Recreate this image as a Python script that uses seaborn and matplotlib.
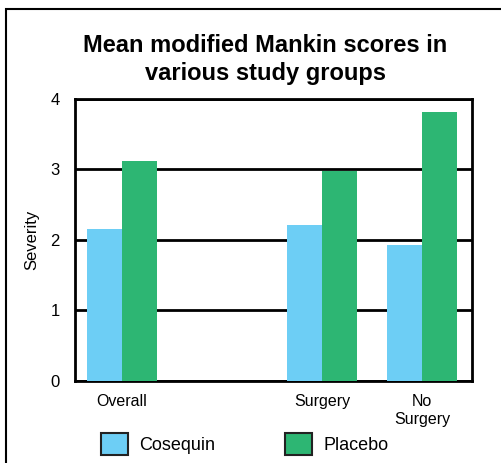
import matplotlib
matplotlib.use("Agg")
import matplotlib.pyplot as plt
import matplotlib.patches as mpatches
import seaborn as sns
import pandas as pd

# Study groups; the blank entry leaves an empty slot between Overall and Surgery
groups = ["Overall", " ", "Surgery", "No\nSurgery"]
data_groups = ["Overall", "Surgery", "No\nSurgery"]
cosequin = [2.15, 2.21, 1.93]
placebo = [3.11, 2.98, 3.81]
treatments = ["Cosequin", "Placebo"]
yticks = [0, 1, 2, 3, 4]

colors = {"Cosequin": "#6DCEF5", "Placebo": "#2DB673"}

df = pd.DataFrame({
    "Group": data_groups * 2,
    "Treatment": ["Cosequin"] * 3 + ["Placebo"] * 3,
    "Severity": cosequin + placebo,
})

sns.set_theme(style="white")
plt.rcParams["font.family"] = ["Liberation Sans", "DejaVu Sans"]
plt.rcParams.update({"text.color": "black", "axes.labelcolor": "black",
                     "xtick.color": "black", "ytick.color": "black"})

fig = plt.figure(figsize=(5.01, 4.63), dpi=100)
ax = fig.add_axes([0.1497, 0.1771, 0.7924, 0.6101])

sns.barplot(data=df, x="Group", y="Severity", hue="Treatment", order=groups,
            hue_order=treatments, palette=colors, width=0.7, saturation=1,
            linewidth=0, errorbar=None, legend=False, ax=ax, zorder=3)

ax.set_xlim(-0.47, 3.5)
ax.set_ylim(0, 4)
ax.set_yticks(yticks)
ax.set_yticklabels([str(t) for t in yticks], fontsize=12)
ax.set_xticks(range(len(groups)))
ax.set_xticklabels(groups, fontsize=11.5, linespacing=1.3)
ax.tick_params(axis="both", length=0)
ax.tick_params(axis="x", pad=9)
ax.tick_params(axis="y", pad=11)

ax.set_axisbelow(True)
ax.yaxis.grid(True, color="black", linewidth=2)
ax.xaxis.grid(False)
for s in ax.spines.values():
    s.set_visible(True)
    s.set_color("black")
    s.set_linewidth(2)

ax.set_xlabel("")
ax.set_ylabel("Severity", fontsize=12, labelpad=8)

fig.text(0.53, 0.872, "Mean modified Mankin scores in\nvarious study groups",
         ha="center", va="center", fontsize=17, fontweight="bold",
         linespacing=1.3)

handles = [mpatches.Patch(facecolor=colors[t], edgecolor="#222222",
                          linewidth=1.5, label=t) for t in treatments]
fig.legend(handles=handles, loc="center", bbox_to_anchor=(0.488, 0.04), ncol=2,
           frameon=False, fontsize=13, handlelength=1.5, handleheight=1.5,
           columnspacing=3.9, handletextpad=0.6)

# Outer frame around the figure
fig.patches.append(mpatches.Rectangle((6 / 501, -0.05), 1.1, 1.05 - 9 / 463,
                                      transform=fig.transFigure, fill=False,
                                      edgecolor="black", linewidth=1.5,
                                      clip_on=False))

fig.savefig("out.png", dpi=100, facecolor="white")
